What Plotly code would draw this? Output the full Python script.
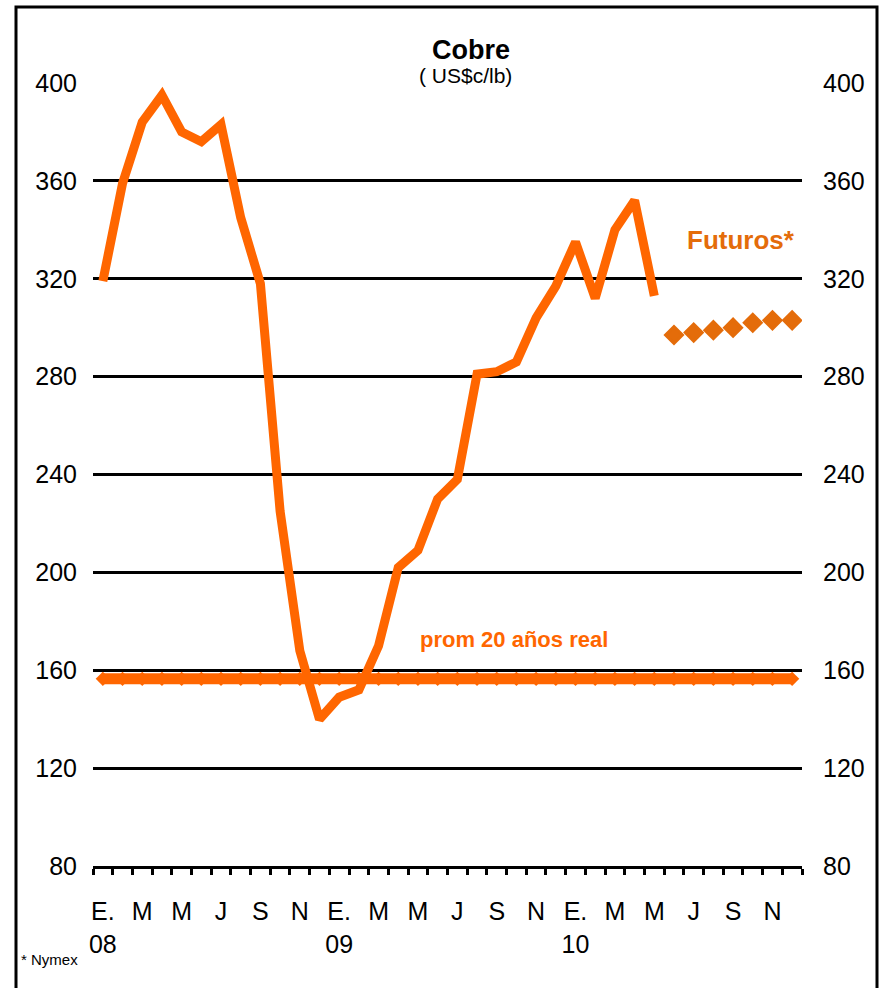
import plotly.graph_objects as go

# Colores
NARANJA = "#FF6600"
NARANJA_OSC = "#E46C0A"
NEGRO = "#000000"
FUENTE = "Liberation Sans, Arial, sans-serif"

# Meses ene-08 .. dic-10
MESES = [
    "ene-08", "feb-08", "mar-08", "abr-08", "may-08", "jun-08",
    "jul-08", "ago-08", "sep-08", "oct-08", "nov-08", "dic-08",
    "ene-09", "feb-09", "mar-09", "abr-09", "may-09", "jun-09",
    "jul-09", "ago-09", "sep-09", "oct-09", "nov-09", "dic-09",
    "ene-10", "feb-10", "mar-10", "abr-10", "may-10", "jun-10",
    "jul-10", "ago-10", "sep-10", "oct-10", "nov-10", "dic-10",
]

# Precio cobre (US$c/lb), ene-08 .. may-10
COBRE = [319, 359, 384, 395, 380, 376, 383, 345, 318, 225, 168, 140,
         149, 152, 170, 202, 209, 230, 238, 281, 282, 286, 304, 317,
         335, 312, 340, 352, 313]

# Futuros Nymex, jun-10 .. dic-10
FUTUROS = [297, 298, 299, 300, 302, 303, 303]

# Promedio 20 anos real
PROM_20 = 156.5

TICK_TEXT = ["E.<br>08", "M", "M", "J", "S", "N",
             "E.<br>09", "M", "M", "J", "S", "N",
             "E.<br>10", "M", "M", "J", "S", "N"]

# plot area in pixels
W_FIG, H_FIG = 883, 988
L, R, T, B = 93, 802, 83, 866


def px_x(p):
    return (p - L) / (R - L)


def px_y(p):
    return (B - p) / (B - T)


idx = list(range(len(MESES)))
x_cobre = idx[:len(COBRE)]
x_fut = idx[len(COBRE):len(COBRE) + len(FUTUROS)]

fig = go.Figure()

fig.add_trace(go.Scatter(
    x=idx, y=[PROM_20] * len(idx),
    mode="lines+markers",
    line=dict(color=NARANJA, width=11),
    marker=dict(symbol="diamond", size=11, color=NARANJA),
    hoverinfo="skip", showlegend=False
))

fig.add_trace(go.Scatter(
    x=x_cobre, y=COBRE,
    mode="lines",
    line=dict(color=NARANJA, width=9),
    showlegend=False
))

fig.add_trace(go.Scatter(
    x=x_fut, y=FUTUROS,
    mode="markers",
    marker=dict(symbol="diamond", size=13, color=NARANJA_OSC,
                line=dict(color=NARANJA_OSC, width=3)),
    yaxis="y2",
    showlegend=False
))

fig.update_layout(
    width=W_FIG, height=H_FIG,
    margin=dict(l=L, r=W_FIG - R, t=T, b=H_FIG - B, pad=0),
    plot_bgcolor="white", paper_bgcolor="white",
    font=dict(family=FUENTE, size=25, color=NEGRO),
    xaxis=dict(
        range=[-0.5, len(MESES) - 0.5],
        tickmode="array",
        tickvals=idx[::2],
        ticktext=TICK_TEXT,
        ticks="",
        showgrid=False, zeroline=False,
        showline=True, linecolor=NEGRO, linewidth=3,
        ticklabelstandoff=21,
        tickfont=dict(size=25),
        minor=dict(tickmode="linear", tick0=-0.5, dtick=1, ticks="outside",
                   ticklen=6, tickwidth=3, tickcolor=NEGRO, showgrid=False),
    ),
    yaxis=dict(
        range=[80, 400], dtick=40, tick0=80,
        showgrid=True, gridcolor=NEGRO, gridwidth=3,
        zeroline=False, showline=False, ticks="",
        ticklabelstandoff=15,
        tickfont=dict(size=25),
    ),
    yaxis2=dict(
        range=[80, 400], dtick=40, tick0=80,
        overlaying="y", side="right",
        showgrid=False, zeroline=False, showline=False, ticks="",
        ticklabelstandoff=20,
        tickfont=dict(size=25),
    ),
    shapes=[dict(
        type="rect", xref="paper", yref="paper",
        x0=px_x(16), x1=px_x(877), y0=px_y(1000), y1=px_y(7),
        line=dict(color=NEGRO, width=3), fillcolor="rgba(0,0,0,0)",
        layer="below",
    )],
    annotations=[
        dict(text="<b>Cobre</b>", xref="paper", yref="paper",
             x=px_x(471), y=px_y(33), showarrow=False,
             font=dict(size=27, color=NEGRO)),
        dict(text="( US$c/lb)", xref="paper", yref="paper",
             x=px_x(466), y=px_y(62), showarrow=False,
             font=dict(size=21, color=NEGRO)),
        dict(text="<b>Futuros*</b>", xref="x", yref="y",
             x=32.4, y=335.8, showarrow=False,
             font=dict(size=26, color=NARANJA_OSC)),
        dict(text="<b>prom 20 años real</b>", xref="x", yref="y",
             x=20.9, y=172.4, showarrow=False,
             font=dict(size=22, color=NARANJA)),
        dict(text="* Nymex", xref="paper", yref="paper",
             x=px_x(19), y=px_y(970), xanchor="left", showarrow=False,
             font=dict(size=15, color=NEGRO)),
    ],
)

# no page margin, so the figure sits at the window origin
fig.write_html(
    "out.html",
    config={"displayModeBar": False},
    post_script="document.body.style.margin='0';document.body.style.overflow='hidden';",
)
